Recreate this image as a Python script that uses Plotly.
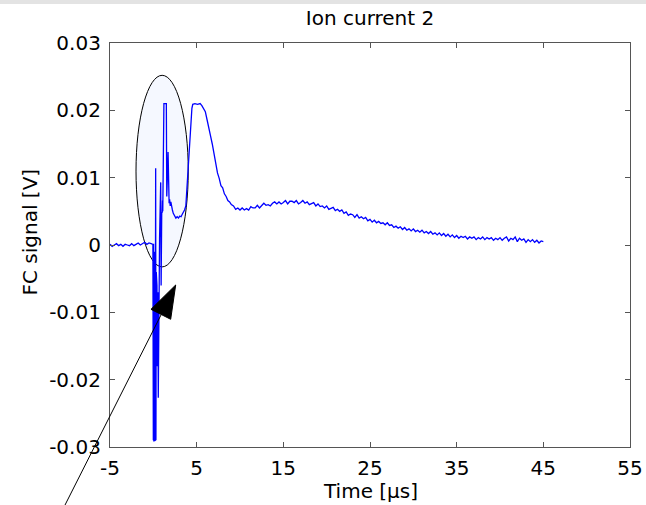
import plotly.graph_objects as go

# ---------------- data ----------------
baseline_t = [-5.0, -4.75, -4.5, -4.25, -4.0, -3.75, -3.5, -3.25, -3.0, -2.75, -2.5, -2.25,
              -2.0, -1.75, -1.5, -1.25, -1.0, -0.75, -0.5, -0.25, -0.05]
baseline_v = [0.0001, -0.0002, 0.0000, 0.0002, -0.0001, 0.0001, -0.0002, 0.0001, 0.0000, -0.0001,
              0.0002, -0.0001, 0.0001, 0.0003, 0.0000, 0.0002, 0.0004, 0.0001, 0.0003, 0.0002, 0.0001]

spike_t = [0.00, 0.03, 0.06, 0.10, 0.13, 0.17, 0.21, 0.27, 0.30, 0.34, 0.38, 0.42, 0.47, 0.52,
           0.57, 0.63, 0.72, 0.85, 0.90, 0.95, 0.97, 1.00, 1.03, 1.06, 1.09, 1.12, 1.16, 1.22,
           1.50, 1.55, 1.62, 1.70, 1.74, 1.82, 1.88, 1.95, 2.02, 2.10, 2.20, 2.30, 2.45, 2.60,
           2.75, 2.90, 3.05, 3.20, 3.35, 3.50, 3.60]
spike_v = [-0.0290, 0.0002, -0.0292, -0.0010, -0.0288, 0.0004, -0.0291, 0.0114, -0.0290, -0.0040,
           -0.0285, -0.0060, -0.0180, -0.0070, -0.0227, -0.0030, 0.0010, 0.0093, -0.0060, 0.0020,
           0.0049, 0.0065, 0.0048, 0.0066, 0.0050, 0.0130, 0.0075, 0.0210, 0.0210, 0.0072,
           0.0100, 0.0138, 0.0072, 0.0062, 0.0068, 0.0058, 0.0064, 0.0055, 0.0052, 0.0047,
           0.0043, 0.0040, 0.0042, 0.0040, 0.0043, 0.0042, 0.0046, 0.0049, 0.0052]

peak_t = [3.75, 3.85, 3.95, 4.05, 4.15, 4.25, 4.35, 4.45, 4.55, 4.8, 5.1, 5.4, 5.6, 5.8, 6.0,
          6.2, 6.4, 6.6, 6.8, 7.0, 7.2, 7.4, 7.6, 7.8, 8.0, 8.2, 8.4, 8.6, 8.8, 9.0, 9.25,
          9.5, 9.75, 10.0]
peak_v = [0.0058, 0.0078, 0.0098, 0.0120, 0.0140, 0.0165, 0.0190, 0.0203, 0.0209, 0.0210,
          0.0209, 0.0210, 0.0207, 0.0203, 0.0198, 0.0186, 0.0176, 0.0162, 0.0150, 0.0134,
          0.0121, 0.0107, 0.0099, 0.0088, 0.0085, 0.0076, 0.0072, 0.0066, 0.0064, 0.0060,
          0.0058, 0.0053, 0.0055, 0.0052]

tail_t = [10.25, 10.5, 10.75, 11.0, 11.25, 11.5, 11.75, 12.0, 12.25, 12.5, 12.75, 13.0, 13.25,
          13.5, 13.75, 14.0, 14.25, 14.5, 14.75, 15.0, 15.25, 15.5, 15.75, 16.0, 16.25, 16.5,
          16.75, 17.0, 17.25, 17.5, 17.75, 18.0, 18.25, 18.5, 18.75, 19.0, 19.25, 19.5, 19.75,
          20.0, 20.25, 20.5, 20.75, 21.0, 21.25, 21.5, 21.75, 22.0, 22.25, 22.5, 22.75, 23.0,
          23.25, 23.5, 23.75, 24.0, 24.25, 24.5, 24.75, 25.0, 25.25, 25.5, 25.75, 26.0, 26.25,
          26.5, 26.75, 27.0, 27.25, 27.5, 27.75, 28.0, 28.25, 28.5, 28.75, 29.0, 29.25, 29.5,
          29.75, 30.0, 30.25, 30.5, 30.75, 31.0, 31.25, 31.5, 31.75, 32.0, 32.25, 32.5, 32.75,
          33.0, 33.25, 33.5, 33.75, 34.0, 34.25, 34.5, 34.75, 35.0, 35.25, 35.5, 35.75, 36.0,
          36.25, 36.5, 36.75, 37.0, 37.25, 37.5, 37.75, 38.0, 38.25, 38.5, 38.75, 39.0, 39.25,
          39.5, 39.75, 40.0, 40.25, 40.5, 40.75, 41.0, 41.25, 41.5, 41.75, 42.0, 42.25, 42.5,
          42.75, 43.0, 43.25, 43.5, 43.75, 44.0, 44.25, 44.5, 44.75, 45.0]
tail_v = [0.0055, 0.0052, 0.0054, 0.0052, 0.0057, 0.0055, 0.0055, 0.0059, 0.0055, 0.0059,
          0.0062, 0.0059, 0.0060, 0.0058, 0.0062, 0.0064, 0.0061, 0.0064, 0.0061, 0.0063,
          0.0066, 0.0061, 0.0065, 0.0065, 0.0063, 0.0066, 0.0061, 0.0063, 0.0066, 0.0062,
          0.0064, 0.0060, 0.0062, 0.0063, 0.0058, 0.0061, 0.0057, 0.0058, 0.0055, 0.0058,
          0.0053, 0.0055, 0.0056, 0.0051, 0.0053, 0.0050, 0.0052, 0.0047, 0.0049, 0.0044,
          0.0046, 0.0045, 0.0041, 0.0045, 0.0040, 0.0042, 0.0039, 0.0041, 0.0036, 0.0038,
          0.0034, 0.0037, 0.0033, 0.0035, 0.0032, 0.0033, 0.0030, 0.0033, 0.0029, 0.0030,
          0.0026, 0.0028, 0.0025, 0.0027, 0.0023, 0.0026, 0.0022, 0.0024, 0.0021, 0.0024,
          0.0020, 0.0022, 0.0019, 0.0022, 0.0018, 0.0020, 0.0017, 0.0020, 0.0016, 0.0018,
          0.0015, 0.0018, 0.0014, 0.0017, 0.0013, 0.0016, 0.0012, 0.0015, 0.0011, 0.0014,
          0.0010, 0.0013, 0.0011, 0.0013, 0.0009, 0.0012, 0.0010, 0.0012, 0.0008, 0.0011,
          0.0009, 0.0012, 0.0008, 0.0011, 0.0009, 0.0011, 0.0007, 0.0010, 0.0008, 0.0011,
          0.0007, 0.0010, 0.0012, 0.0006, 0.0010, 0.0008, 0.0012, 0.0005, 0.0010, 0.0007,
          0.0009, 0.0004, 0.0008, 0.0005, 0.0008, 0.0004, 0.0007, 0.0003, 0.0006, 0.0005]

time_us = baseline_t + spike_t + peak_t + tail_t
fc_signal = baseline_v + spike_v + peak_v + tail_v

x_ticks = [-5, 5, 15, 25, 35, 45, 55]
x_ticktext = ["-5", "5", "15", "25", "35", "45", "55"]
y_ticks = [-0.03, -0.02, -0.01, 0, 0.01, 0.02, 0.03]
y_ticktext = ["-0.03", "-0.02", "-0.01", "0", "0.01", "0.02", "0.03"]

title_text = "Ion current 2"
x_label = "Time [μs]"
y_label = "FC signal [V]"

# highlighted region (ellipse, data coords) and arrow (paper coords)
ellipse_box = dict(x0=-2.0, x1=4.03, y0=-0.00325, y1=0.0252)
arrow_line = dict(x0=-0.0865, y0=-0.1436, x1=0.1058, y1=0.3465)
arrow_head = [(0.0788, 0.3408), (0.1263, 0.4010), (0.1167, 0.3161)]

FONT = "DejaVu Sans"
AXC = "#555555"

fig = go.Figure()
fig.add_trace(go.Scatter(x=time_us, y=fc_signal, mode="lines",
                         line=dict(color="#0000ff", width=1.3), showlegend=False))

axis_common = dict(showline=True, linecolor=AXC, linewidth=1.2, mirror="ticks",
                   ticks="inside", ticklen=5, tickcolor=AXC, tickwidth=1,
                   showgrid=False, zeroline=False, automargin=False,
                   tickfont=dict(family=FONT, size=20, color="black"))

fig.update_xaxes(range=[-5, 55], tickvals=x_ticks, ticktext=x_ticktext,
                 ticklabelstandoff=3, **axis_common)
fig.update_yaxes(range=[-0.03, 0.03], tickvals=y_ticks, ticktext=y_ticktext,
                 ticklabelstandoff=4, **axis_common)

shapes = [
    dict(type="circle", xref="x", yref="y", layer="below",
         fillcolor="#f5f8ff", line=dict(color="black", width=1), **ellipse_box),
    dict(type="line", xref="paper", yref="paper", layer="above",
         line=dict(color="black", width=1), **arrow_line),
    dict(type="path", xref="paper", yref="paper", layer="above",
         path="M {} {} L {} {} L {} {} Z".format(arrow_head[0][0], arrow_head[0][1],
                                                  arrow_head[1][0], arrow_head[1][1],
                                                  arrow_head[2][0], arrow_head[2][1]),
         fillcolor="black", line=dict(color="black", width=1)),
    dict(type="rect", xref="paper", yref="paper", layer="above",
         x0=-0.25, x1=1.05, y0=1.0965, y1=1.13, fillcolor="#e3e3e3", line=dict(width=0)),
]

annotations = [
    dict(text=x_label, xref="paper", yref="paper", x=0.5, y=-0.1089,
         xanchor="center", yanchor="middle", showarrow=False,
         font=dict(family=FONT, size=20, color="black")),
    dict(text=y_label, xref="paper", yref="paper", x=-0.1538, y=0.531, textangle=-90,
         xanchor="center", yanchor="middle", showarrow=False,
         font=dict(family=FONT, size=20, color="black")),
]

fig.update_layout(
    width=646, height=505,
    margin=dict(l=110, r=16, t=43, b=58, autoexpand=False),
    paper_bgcolor="white", plot_bgcolor="white",
    title=dict(text=title_text, x=0.5, xref="paper", y=1 - 18 / 505, yref="container",
               xanchor="center", yanchor="middle",
               font=dict(family=FONT, size=20, color="black")),
    shapes=shapes, annotations=annotations,
)

fig.write_html("out.html", config={"displayModeBar": False},
               post_script="document.body.style.margin='0';document.body.style.padding='0';"
                           "document.body.style.overflow='hidden';")
